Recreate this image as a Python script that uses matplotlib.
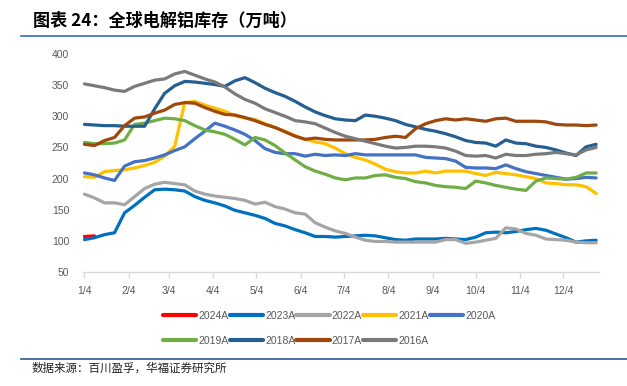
import numpy as np
import pandas as pd
import matplotlib
matplotlib.use("Agg")
import matplotlib.pyplot as plt
from matplotlib.lines import Line2D

plt.rcParams['font.family'] = ['Liberation Sans', 'Noto Sans CJK SC', 'DejaVu Sans']

# weekly readings, starting 1/4
labels = ['2024A', '2023A', '2022A', '2021A', '2020A', '2019A', '2018A', '2017A', '2016A']
colors = ['#ff0000', '#0070c0', '#a5a5a5', '#ffc000', '#4472c4', '#70ad47', '#255e91', '#9e480e', '#7a7a7a']

s2024 = [107, 108]
s2023 = [102, 105, 110, 113, 145, 157, 170, 182, 183, 182, 180, 171, 165, 161, 156, 149, 145, 141, 136, 128,
         124, 118, 113, 107, 107, 106, 107, 108, 109, 108, 105, 102, 101, 103, 103, 103, 104, 103, 102, 106,
         113, 114, 113, 115, 118, 120, 117, 111, 105, 98, 100, 101]
s2022 = [175, 169, 161, 161, 158, 171, 184, 191, 194, 192, 190, 180, 175, 172, 170, 168, 165, 159, 162, 155,
         151, 145, 143, 129, 122, 116, 112, 106, 101, 99, 99, 98, 98, 98, 98, 98, 102, 102, 96, 98,
         101, 104, 121, 119, 112, 109, 103, 102, 101, 98, 97, 97]
s2021 = [203, 202, 211, 213, 214, 217, 221, 226, 236, 252, 322, 324, 318, 313, 308, 301, 297, 295, 288, 282,
         276, 269, 263, 259, 256, 249, 240, 234, 230, 223, 215, 211, 209, 209, 212, 209, 212, 212, 212, 208,
         205, 210, 208, 206, 203, 200, 193, 192, 190, 190, 187, 176]
s2020 = [209, 206, 201, 197, 220, 227, 229, 233, 238, 245, 251, 264, 276, 289, 284, 278, 271, 261, 248, 242,
         240, 240, 236, 239, 237, 238, 237, 240, 238, 238, 238, 238, 238, 238, 234, 233, 232, 228, 218, 217,
         217, 216, 222, 216, 211, 208, 205, 202, 199, 200, 202, 201]
s2019 = [258, 256, 256, 257, 262, 287, 289, 293, 297, 296, 293, 285, 278, 275, 271, 263, 254, 266, 262, 253,
         241, 230, 219, 212, 207, 201, 198, 201, 201, 205, 206, 202, 200, 195, 193, 189, 187, 186, 184, 196,
         193, 189, 186, 183, 181, 196, 201, 200, 199, 202, 209, 209]
s2018 = [287, 286, 285, 285, 284, 284, 284, 312, 337, 349, 356, 355, 353, 351, 348, 357, 362, 354, 345, 338,
         332, 324, 315, 307, 301, 296, 294, 293, 302, 300, 297, 293, 287, 283, 279, 276, 272, 267, 261, 258,
         257, 252, 262, 257, 256, 252, 250, 246, 241, 237, 251, 255]
s2017 = [255, 253, 261, 266, 285, 297, 299, 305, 310, 319, 322, 321, 314, 308, 303, 302, 298, 293, 287, 282,
         275, 268, 263, 265, 263, 262, 262, 262, 262, 263, 266, 268, 266, 280, 288, 293, 296, 294, 296, 294,
         292, 296, 297, 292, 292, 292, 291, 287, 286, 286, 285, 286]
s2016 = [352, 349, 346, 342, 340, 348, 353, 358, 360, 368, 372, 366, 360, 355, 347, 336, 327, 321, 312, 306,
         300, 293, 291, 288, 281, 274, 268, 264, 260, 256, 252, 249, 250, 252, 252, 251, 249, 244, 237, 236,
         237, 233, 239, 237, 237, 239, 240, 242, 240, 238, 246, 250]
series = [s2024, s2023, s2022, s2021, s2020, s2019, s2018, s2017, s2016]

months = [f"{m}/4" for m in range(1, 13)]
start = pd.Timestamp('2023-01-04')

fig = plt.figure(figsize=(6.27, 3.86), dpi=100)
ax = fig.add_axes([83 / 627, 1 - 272 / 386, (599 - 83) / 627, (272 - 54) / 386])

for lab, col, vals in zip(labels, colors, series):
    dates = pd.date_range(start, periods=len(vals), freq='7D')
    ax.plot(dates, vals, color=col, lw=2.3, solid_capstyle='round', label=lab)

ax.set_ylim(50, 400)
ax.set_yticks(np.arange(50, 401, 50))
ax.set_xlim(start - pd.Timedelta(days=1), start + pd.Timedelta(days=359))
ticks = [pd.Timestamp(2023, m, 4) for m in range(1, 13)]
ax.set_xticks(ticks)
ax.set_xticklabels(months)
for s in ['top', 'right', 'left']:
    ax.spines[s].set_visible(False)
ax.spines['bottom'].set_color('#d9d9d9')
ax.spines['bottom'].set_linewidth(1)
ax.tick_params(axis='x', colors='#595959', labelsize=7.5, length=4, width=1, color='#d9d9d9', pad=6)
ax.tick_params(axis='y', colors='#595959', labelsize=7.5, length=0, pad=10)

# legend: row-major order across 5 columns
handles = [Line2D([], [], color=c, lw=3, solid_capstyle='round') for c in colors]
order = [0, 5, 1, 6, 2, 7, 3, 8, 4]
leg = fig.legend([handles[i] for i in order], [labels[i] for i in order],
                 ncol=5, loc='upper left', bbox_to_anchor=(163 / 627, 1 - 311 / 386),
                 frameon=False, fontsize=7.5, handlelength=3.2, handletextpad=0.2,
                 columnspacing=0.1, labelspacing=1.4, borderaxespad=0, borderpad=0)
for t in leg.get_texts():
    t.set_color('#595959')

# title, rules and source
fig.text(33 / 627, 1 - 21 / 386, '图表 24：全球电解铝库存（万吨）', fontsize=12.3, fontweight='bold',
         family=['Noto Sans CJK SC', 'DejaVu Sans'], va='center', ha='left')
fig.add_artist(Line2D([21 / 627, 1], [1 - 36 / 386, 1 - 36 / 386], color='#3b6bc0', lw=1.2))
fig.add_artist(Line2D([21 / 627, 1], [1 - 359 / 386, 1 - 359 / 386], color='#2f5597', lw=1.2))
fig.text(32 / 627, 1 - 368 / 386, '数据来源：百川盈孚，华福证券研究所', fontsize=8.3,
         family=['Noto Sans CJK SC', 'DejaVu Sans'], va='center', ha='left', color='#222222')

fig.savefig('out.png', dpi=100)
